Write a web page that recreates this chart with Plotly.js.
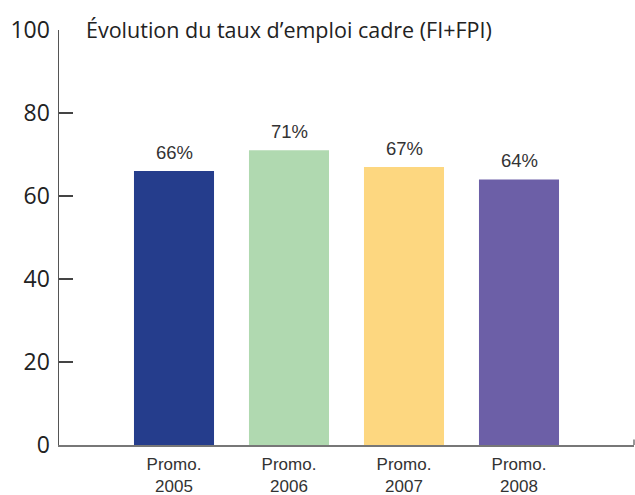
<!DOCTYPE html>
<html><head><meta charset="utf-8">
<script src="https://cdn.plot.ly/plotly-3.0.1.min.js"></script>
<style>body{margin:0;background:#fff}#c{width:635px;height:495px}</style>
</head><body><div id="c"></div>
<script>
const categories = ["Promo.<br>2005", "Promo.<br>2006", "Promo.<br>2007", "Promo.<br>2008"];
const values = [66, 71, 67, 64];
const labels = ["66%", "71%", "67%", "64%"];
const colors = ["#253D8C", "#B0D9B0", "#FDD780", "#6C5FA7"];
const yTicks = [0, 20, 40, 60, 80, 100];

const positions = categories.map((_, i) => i);
const trace = {
  type: "bar",
  x: positions,
  y: values,
  width: 0.696,
  marker: {color: colors},
  hoverinfo: "none"
};
const valueLabels = positions.map((p, i) => ({
  x: p, y: values[i], xref: "x", yref: "y",
  text: labels[i], showarrow: false, yanchor: "bottom", yshift: 6,
  font: {family: "Liberation Sans, Arial, sans-serif", size: 18.5, color: "#333"}
}));
const layout = {
  width: 635, height: 495,
  margin: {l: 59, r: 1, t: 30, b: 50},
  paper_bgcolor: "#fff", plot_bgcolor: "#fff",
  showlegend: false,
  title: {text: "Évolution du taux d’emploi cadre (FI+FPI)", x: 86/635, xanchor: "left", y: 1 - 30/495, yanchor: "middle",
          font: {family: "Open Sans, sans-serif", size: 21.5, color: "#222"}},
  xaxis: {
    range: [-1, 4], tickmode: "array", tickvals: positions, ticktext: categories,
    showgrid: false, zeroline: false, showline: true, linecolor: "#777", linewidth: 1.5,
    ticks: "", ticklabelstandoff: 3,
    tickfont: {family: "Liberation Sans, Arial, sans-serif", size: 17, color: "#333"}
  },
  yaxis: {
    range: [0, 100], tickmode: "array", tickvals: yTicks,
    showgrid: false, zeroline: false, showline: true, linecolor: "#555", linewidth: 1.5,
    ticks: "inside", ticklen: 14, tickwidth: 1.2, tickcolor: "#444",
    ticklabelstandoff: 3,
    tickfont: {family: "Open Sans, sans-serif", size: 23, color: "#222"}
  },
  annotations: valueLabels,
  shapes: [
    {type: "line", xref: "paper", yref: "paper", x0: 1, x1: 1, y0: 0, y1: 0.013, line: {color: "#555", width: 1.2}}
  ]
};
Plotly.newPlot("c", [trace], layout, {displayModeBar: false, staticPlot: true});
</script></body></html>
